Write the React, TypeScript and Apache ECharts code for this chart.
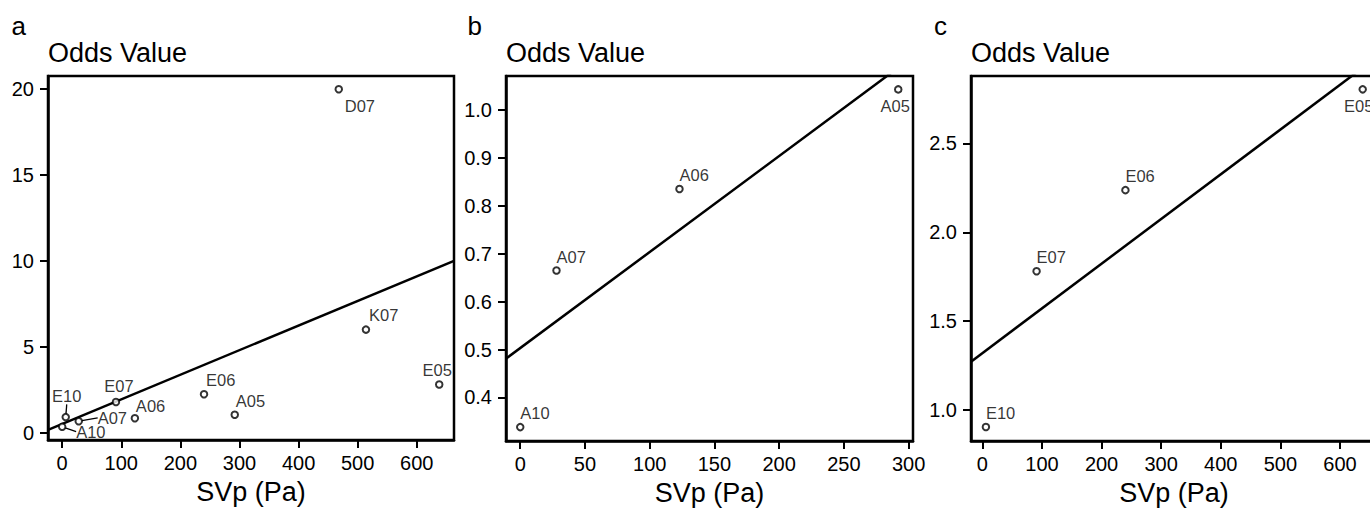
import React, { useEffect, useRef } from 'react';
import * as echarts from 'echarts';

// ---------------- DATA ----------------
const sampleNames = ['A10', 'E10', 'A07', 'E07', 'A06', 'E06', 'A05', 'K07', 'D07', 'E05'];
const svpPa = [0, 6, 28, 91, 123, 240, 292, 514, 468, 638];
const oddsValue = [0.338, 0.905, 0.665, 1.781, 0.835, 2.237, 1.043, 6.0, 20.0, 2.804];

const panelASamples = ['A10', 'E10', 'A07', 'E07', 'A06', 'E06', 'A05', 'K07', 'D07', 'E05'];
const panelBSamples = ['A10', 'A07', 'A06', 'A05'];
const panelCSamples = ['E10', 'E07', 'E06', 'E05'];

const panelLetters = ['a', 'b', 'c'];
const yAxisTitle = 'Odds Value';
const xAxisTitle = 'SVp (Pa)';

const ticksAX = [0, 100, 200, 300, 400, 500, 600];
const ticksAY = [0, 5, 10, 15, 20];
const ticksBX = [0, 50, 100, 150, 200, 250, 300];
const ticksBY = [0.4, 0.5, 0.6, 0.7, 0.8, 0.9, 1.0];
const ticksCX = [0, 100, 200, 300, 400, 500, 600];
const ticksCY = [1.0, 1.5, 2.0, 2.5];

// fitted lines
const fitA = { intercept: 0.504, slope: 0.01433 };
const fitB = { intercept: 0.503, slope: 0.002005 };
const fitC = { intercept: 1.32, slope: 0.002516 };

// axis ranges
const rangeAX = [-24, 663];
const rangeAY = [-0.43, 20.77];
const rangeBX = [-11, 303.4];
const rangeBY = [0.309, 1.071];
const rangeCX = [-19, 662];
const rangeCY = [0.826, 2.879];

// ---------------- STYLE ----------------
const FONT = '"Liberation Sans", Arial, Helvetica, sans-serif';
const BLACK = '#000';

const labelA: Record<string, any> = {
  D07: { position: 'bottom', align: 'left', offset: [6, 0], distance: 4 },
  K07: { position: 'top', align: 'left', offset: [3, 0], distance: 1.5 },
  E05: { position: 'top', align: 'center', offset: [-2, 0], distance: 1.5 },
  E06: { position: 'top', align: 'left', offset: [2, 0], distance: 1 },
  A05: { position: 'top', align: 'left', offset: [1, 0], distance: 1 },
  A06: { position: 'top', align: 'left', offset: [1, 0], distance: 0 },
  E07: { position: 'top', align: 'center', offset: [3, 0], distance: 3 },
};
const leaderA = ['E10', 'A07', 'A10'];
const leaderLabel: Record<string, any> = {
  E10: { position: 'top', align: 'center', distance: 1 },
  A07: { position: 'right', distance: 5 },
  A10: { position: 'right', distance: 5 },
};
const leaderShift: Record<string, number[]> = {
  E10: [1, -7.5],
  A07: [9.7, -3.3],
  A10: [4.7, 4.7],
};
const labelB: Record<string, any> = {
  A05: { position: 'bottom', align: 'center', offset: [-3, 0], distance: 4 },
  A06: { position: 'top', align: 'left', distance: 1 },
  A07: { position: 'top', align: 'left', distance: 1 },
  A10: { position: 'top', align: 'left', distance: 1 },
};
const labelC: Record<string, any> = {
  E05: { position: 'bottom', align: 'center', offset: [-4, 0], distance: 4 },
  E06: { position: 'top', align: 'left', distance: 1 },
  E07: { position: 'top', align: 'left', distance: 1 },
  E10: { position: 'top', align: 'left', distance: 1 },
};

function points(names: string[], placement: Record<string, any>) {
  return names.map((n) => {
    const i = sampleNames.indexOf(n);
    return { name: n, value: [svpPa[i], oddsValue[i]], label: placement[n] || {} };
  });
}

function fitLine(fit: { intercept: number; slope: number }, range: number[]) {
  return range.map((x) => [x, fit.intercept + fit.slope * x]);
}

const scatterBase = {
  type: 'scatter',
  symbol: 'circle',
  symbolSize: 6.5,
  itemStyle: { color: '#fff', borderColor: BLACK, borderWidth: 2 },
  label: {
    show: true,
    formatter: '{b}',
    fontSize: 16.5,
    color: BLACK,
    fontFamily: FONT,
    textBorderWidth: 0,
  },
  emphasis: { disabled: true },
  z: 5,
};

const lineBase = {
  type: 'line',
  showSymbol: false,
  symbol: 'none',
  clip: true,
  lineStyle: { color: BLACK, width: 2.5 },
  emphasis: { disabled: true },
  z: 3,
};

function xAxis(gridIndex: number, range: number[], ticks: number[]) {
  return {
    type: 'value',
    gridIndex,
    min: range[0],
    max: range[1],
    splitLine: { show: false },
    axisLine: { show: true, onZero: false, lineStyle: { color: BLACK, width: 2.5 } },
    axisTick: { show: true, length: 8, lineStyle: { color: BLACK, width: 2 }, customValues: ticks },
    axisLabel: { customValues: ticks, fontSize: 20, color: BLACK, margin: 13, fontFamily: FONT },
    name: xAxisTitle,
    nameLocation: 'middle',
    nameGap: 38,
    nameTextStyle: { fontSize: 27, color: BLACK, fontFamily: FONT },
  };
}

function yAxis(gridIndex: number, range: number[], ticks: number[], decimals: number) {
  return {
    type: 'value',
    gridIndex,
    min: range[0],
    max: range[1],
    splitLine: { show: false },
    axisLine: { show: true, onZero: false, lineStyle: { color: BLACK, width: 2.5 } },
    axisTick: { show: true, length: 8, lineStyle: { color: BLACK, width: 2 }, customValues: ticks },
    axisLabel: {
      customValues: ticks,
      fontSize: 20,
      color: BLACK,
      margin: 14,
      fontFamily: FONT,
      formatter: (v: number) => v.toFixed(decimals),
    },
    name: yAxisTitle,
    nameLocation: 'end',
    nameGap: 10,
    nameTextStyle: { fontSize: 27, color: BLACK, fontFamily: FONT, align: 'left', verticalAlign: 'bottom' },
  };
}

const gridBase = {
  show: true,
  borderColor: BLACK,
  borderWidth: 2.5,
  backgroundColor: 'transparent',
  containLabel: false,
  outerBoundsMode: 'none',
};

export default function App() {
  const ref = useRef<HTMLDivElement>(null);
  useEffect(() => {
    if (!ref.current) return;
    const chart = echarts.init(ref.current, undefined, { renderer: 'svg' });
    const mainA = panelASamples.filter((n) => leaderA.indexOf(n) < 0);
    chart.setOption({
      animation: false,
      backgroundColor: '#fff',
      title: [
        { text: panelLetters[0], left: 11.5, top: 13 },
        { text: panelLetters[1], left: 467.5, top: 13 },
        { text: panelLetters[2], left: 934, top: 13 },
      ].map((t) => ({
        ...t,
        padding: 0,
        textStyle: { fontSize: 26, fontWeight: 'normal', color: BLACK, fontFamily: FONT },
      })),
      grid: [
        { ...gridBase, left: 48, top: 76, width: 406, height: 364 },
        { ...gridBase, left: 506, top: 76, width: 407, height: 365 },
        { ...gridBase, left: 971, top: 76, width: 406, height: 365 },
      ],
      xAxis: [xAxis(0, rangeAX, ticksAX), xAxis(1, rangeBX, ticksBX), xAxis(2, rangeCX, ticksCX)],
      yAxis: [yAxis(0, rangeAY, ticksAY, 0), yAxis(1, rangeBY, ticksBY, 1), yAxis(2, rangeCY, ticksCY, 1)],
      series: [
        { ...lineBase, xAxisIndex: 0, yAxisIndex: 0, data: fitLine(fitA, rangeAX) },
        { ...lineBase, xAxisIndex: 1, yAxisIndex: 1, data: fitLine(fitB, rangeBX) },
        { ...lineBase, xAxisIndex: 2, yAxisIndex: 2, data: fitLine(fitC, rangeCX) },
        { ...scatterBase, xAxisIndex: 0, yAxisIndex: 0, data: points(mainA, labelA) },
        {
          ...scatterBase,
          xAxisIndex: 0,
          yAxisIndex: 0,
          data: points(leaderA, leaderLabel),
          labelLine: { show: true, lineStyle: { color: BLACK, width: 1.3 } },
          labelLayout: (p: any) => {
            const s = leaderShift[leaderA[p.dataIndex]] || [0, 0];
            return { dx: s[0], dy: s[1] };
          },
        },
        { ...scatterBase, xAxisIndex: 1, yAxisIndex: 1, data: points(panelBSamples, labelB) },
        { ...scatterBase, xAxisIndex: 2, yAxisIndex: 2, data: points(panelCSamples, labelC) },
      ],
    });
    return () => chart.dispose();
  }, []);
  return <div ref={ref} style={{ position: 'absolute', left: 0, top: 0, width: 1370, height: 509 }} />;
}
